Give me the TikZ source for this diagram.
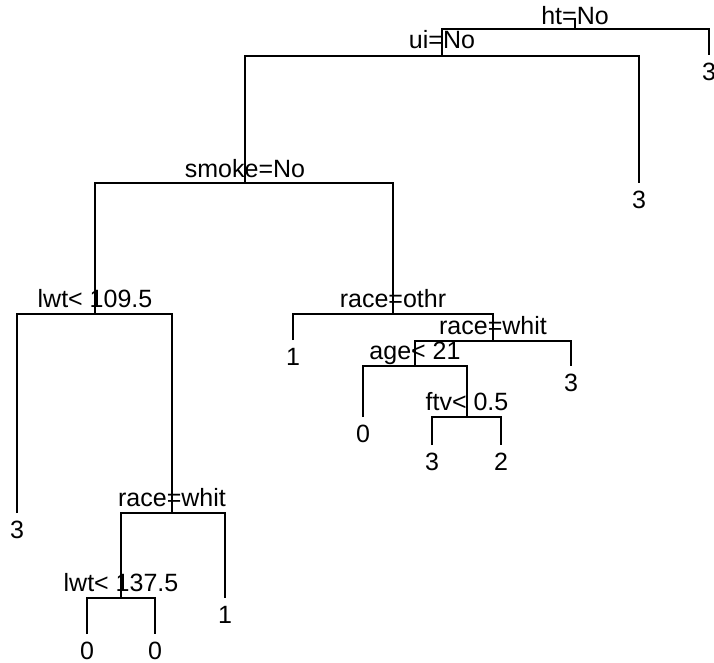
\documentclass[tikz,border=0pt]{standalone}
\usepackage{fontspec}
\setmainfont{Liberation Sans}
\begin{document}
\begin{tikzpicture}[x=1pt,y=-1pt,
  edge/.style={line width=1.2pt},
  lab/.style={font=\fontsize{25}{30}\selectfont, inner sep=0pt, anchor=base},
  leaf/.style={font=\fontsize{25}{30}\selectfont, inner sep=0pt, anchor=base}]
\useasboundingbox (0,0) rectangle (714,662);
% split points (x, bar y)
\coordinate (A) at (575,29);
\coordinate (B) at (442,56);
\coordinate (C) at (245,183);
\coordinate (D) at (95,314);
\coordinate (E) at (172,513);
\coordinate (F) at (121,598);
\coordinate (G) at (393,314);
\coordinate (H) at (493,341);
\coordinate (I) at (415,366);
\coordinate (J) at (467,417);
% leaf ends
\coordinate (l1) at (709,55);
\coordinate (l2) at (639,183);
\coordinate (l3) at (17,513);
\coordinate (l4) at (225,598);
\coordinate (l5) at (87,634);
\coordinate (l6) at (155,634);
\coordinate (l7) at (293,340);
\coordinate (l8) at (571,366);
\coordinate (l9) at (363,417);
\coordinate (l10) at (432,445);
\coordinate (l11) at (501,445);
% edges
\draw[edge] (A) -- ++(0,-11);
\draw[edge] (B) |- (A) -| (l1);
\draw[edge] (C) |- (B) -| (l2);
\draw[edge] (D) |- (C) -| (G);
\draw[edge] (l3) |- (D) -| (E);
\draw[edge] (F) |- (E) -| (l4);
\draw[edge] (l5) |- (F) -| (l6);
\draw[edge] (l7) |- (G) -| (H);
\draw[edge] (I) |- (H) -| (l8);
\draw[edge] (l9) |- (I) -| (J);
\draw[edge] (l10) |- (J) -| (l11);
% split labels
\node[lab] (tA) at ([yshift=5]A) {ht=No};
\node[lab] (tB) at ([yshift=8]B) {ui=No};
\node[lab] (tC) at ([yshift=6]C) {smoke=No};
\node[lab] (tD) at ([yshift=7]D) {lwt< 109.5};
\node[lab] (tE) at ([yshift=7]E) {race=whit};
\node[lab] (tF) at ([yshift=7]F) {lwt< 137.5};
\node[lab] (tG) at ([yshift=7]G) {race=othr};
\node[lab] (tH) at ([yshift=7]H) {race=whit};
\node[lab] (tI) at ([yshift=7]I) {age< 21};
\node[lab] (tJ) at ([yshift=7]J) {ftv< 0.5};
% leaf labels
\node[leaf] (t1) at ([yshift=-25]l1) {3};
\node[leaf] (t2) at ([yshift=-25]l2) {3};
\node[leaf] (t3) at ([yshift=-25]l3) {3};
\node[leaf] (t4) at ([yshift=-25]l4) {1};
\node[leaf] (t5) at ([yshift=-25]l5) {0};
\node[leaf] (t6) at ([yshift=-25]l6) {0};
\node[leaf] (t7) at ([yshift=-25]l7) {1};
\node[leaf] (t8) at ([yshift=-25]l8) {3};
\node[leaf] (t9) at ([yshift=-25]l9) {0};
\node[leaf] (t10) at ([yshift=-25]l10) {3};
\node[leaf] (t11) at ([yshift=-25]l11) {2};
\end{tikzpicture}
\end{document}
